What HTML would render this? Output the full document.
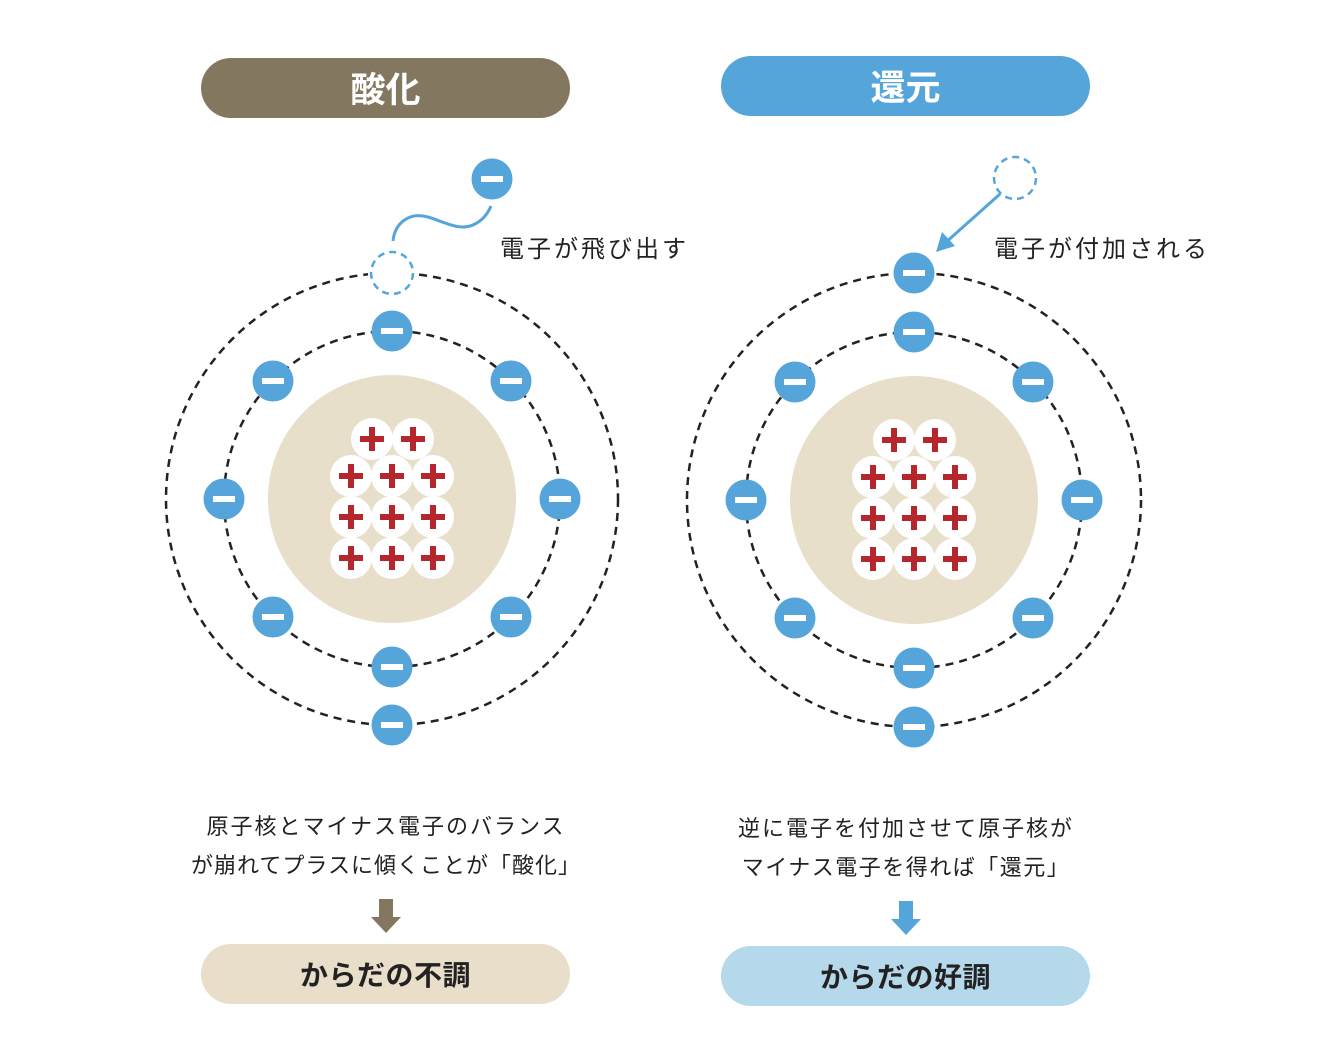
<!DOCTYPE html>
<html><head><meta charset="utf-8"><style>
html,body{margin:0;padding:0;background:#fff;}
svg{display:block;}
text{font-family:"Liberation Sans","Noto Sans CJK JP",sans-serif;}
</style></head><body>
<svg width="1328" height="1044" viewBox="0 0 1328 1044" xmlns="http://www.w3.org/2000/svg">
<defs>
<g id="e"><circle r="20.5" fill="#55a5db"/><rect x="-11" y="-3" width="22" height="6" fill="#fff"/></g>
<g id="p"><circle r="21" fill="#fff"/><rect x="-12" y="-3" width="24" height="6" fill="#b6262d"/><rect x="-3" y="-12" width="6" height="24" fill="#b6262d"/></g>
<g id="nuc">
<circle r="124" fill="#e8dfca"/>
<use href="#p" x="-20" y="-60"/><use href="#p" x="21" y="-60"/>
<use href="#p" x="-41" y="-23"/><use href="#p" x="0" y="-23"/><use href="#p" x="41" y="-23"/>
<use href="#p" x="-41" y="18"/><use href="#p" x="0" y="18"/><use href="#p" x="41" y="18"/>
<use href="#p" x="-41" y="59"/><use href="#p" x="0" y="59"/><use href="#p" x="41" y="59"/>
</g>
<g id="inner">
<circle r="168" fill="none" stroke="#222" stroke-width="2.5" stroke-dasharray="8 6"/>
<use href="#e" x="0" y="-168"/><use href="#e" x="119" y="-118"/><use href="#e" x="168" y="0"/><use href="#e" x="119" y="118"/>
<use href="#e" x="0" y="168"/><use href="#e" x="-119" y="118"/><use href="#e" x="-168" y="0"/><use href="#e" x="-119" y="-118"/>
</g>
</defs>

<rect x="201" y="58" width="369" height="60" rx="30" fill="#837760"/>
<text x="385.5" y="102" font-size="35" font-weight="bold" fill="#fff" text-anchor="middle">酸化</text>
<rect x="721" y="56" width="369" height="60" rx="30" fill="#55a5db"/>
<text x="905.5" y="100" font-size="35" font-weight="bold" fill="#fff" text-anchor="middle">還元</text>

<g transform="translate(392,499)">
<circle r="226" fill="none" stroke="#222" stroke-width="2.5" stroke-dasharray="8 6"/>
<use href="#nuc"/>
<use href="#inner"/>
<circle cx="0" cy="-226" r="24" fill="#fff"/>
<circle cx="0" cy="-226" r="21" fill="none" stroke="#55a5db" stroke-width="2.5" stroke-dasharray="7 5"/>
<use href="#e" x="0" y="226"/>
</g>
<path d="M393,241 C395,222 410,212 428,217 C445,222 460,232 475,224 C483,220 488,213 491,206" fill="none" stroke="#55a5db" stroke-width="3"/>
<use href="#e" x="492" y="179"/>
<text x="500" y="257" font-size="24" letter-spacing="3" fill="#222">電子が飛び出す</text>

<g transform="translate(914,500)">
<circle r="227" fill="none" stroke="#222" stroke-width="2.5" stroke-dasharray="8 6"/>
<use href="#nuc"/>
<use href="#inner"/>
<use href="#e" x="0" y="-227"/>
<use href="#e" x="0" y="227"/>
</g>
<circle cx="1015" cy="178" r="21" fill="none" stroke="#55a5db" stroke-width="2.5" stroke-dasharray="7 5"/>
<line x1="1000" y1="194" x2="944" y2="244" stroke="#55a5db" stroke-width="3"/>
<polygon points="936,252 942,232 955,246" fill="#55a5db"/>
<text x="994" y="257" font-size="24" letter-spacing="3" fill="#222">電子が付加される</text>

<text x="386" y="834" font-size="22" letter-spacing="2" fill="#222" text-anchor="middle">原子核とマイナス電子のバランス</text>
<text x="386" y="873" font-size="22" letter-spacing="1" fill="#222" text-anchor="middle">が崩れてプラスに傾くことが「酸化」</text>
<text x="906" y="836" font-size="22" letter-spacing="2" fill="#222" text-anchor="middle">逆に電子を付加させて原子核が</text>
<text x="906" y="875" font-size="22" letter-spacing="1.5" fill="#222" text-anchor="middle">マイナス電子を得れば「還元」</text>

<polygon points="379,899 393,899 393,917 401,917 386,933 371,917 379,917" fill="#837760"/>
<polygon points="899,901 913,901 913,919 921,919 906,935 891,919 899,919" fill="#55a5db"/>

<rect x="201" y="944" width="369" height="60" rx="30" fill="#e8dec9"/>
<text x="385.5" y="985" font-size="28" letter-spacing="0.5" font-weight="bold" fill="#222" text-anchor="middle">からだの不調</text>
<rect x="721" y="946" width="369" height="60" rx="30" fill="#b5d8ea"/>
<text x="905.5" y="987" font-size="28" letter-spacing="0.5" font-weight="bold" fill="#222" text-anchor="middle">からだの好調</text>
</svg>
</body></html>
